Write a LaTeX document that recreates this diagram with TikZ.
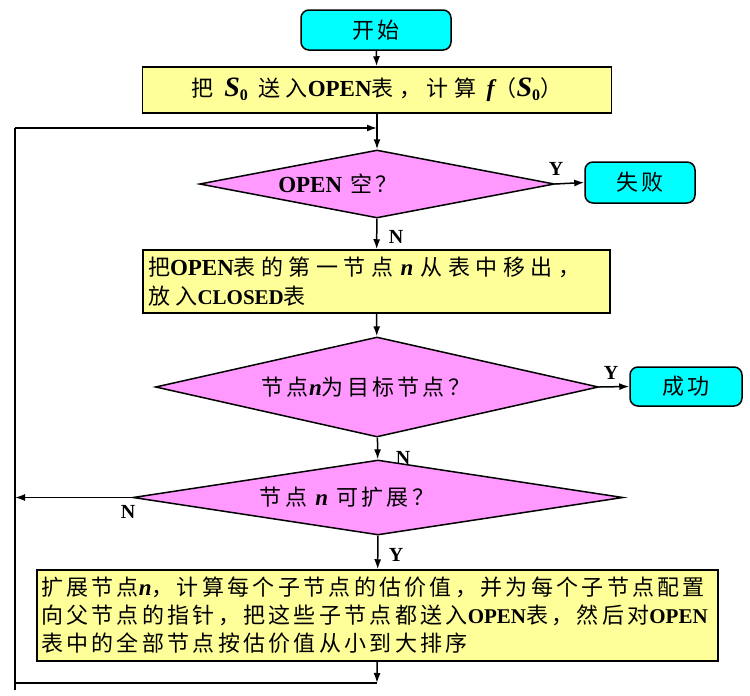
\documentclass[tikz,border=0pt]{standalone}
\usepackage{fontspec}
\setmainfont{Liberation Serif}
\newfontfamily\cjk[LetterSpace=15]{Noto Sans CJK SC}
\newfontfamily\cjkw[LetterSpace=25]{Noto Sans CJK SC}
\newfontfamily\tnr{Liberation Serif}
\usetikzlibrary{shapes.geometric,arrows.meta}
\newcommand\enb[1]{{\tnr\bfseries\fontsize{23}{28}\selectfont #1}}
\newcommand\ens[1]{{\tnr\bfseries\fontsize{21}{28}\selectfont #1}}
\newcommand\nv{{\tnr\bfseries\itshape\fontsize{23}{28}\selectfont n}}
\newcommand\Szero{{\tnr\bfseries\itshape\fontsize{28}{28}\selectfont S}{\tnr\bfseries\fontsize{16}{16}\selectfont\raisebox{-4pt}{0}}}
\definecolor{cyanc}{HTML}{00FFFF}
\definecolor{yelc}{HTML}{FFFF99}
\definecolor{pinkc}{HTML}{FF99FF}
\begin{document}
\begin{tikzpicture}[x=1pt,y=-1pt,
  every node/.style={font=\cjk\fontsize{22}{28}\selectfont},
  term/.style={draw, line width=1.5pt, rounded corners=8pt, fill=cyanc, inner sep=0pt},
  procbox/.style={draw, line width=1.5pt, fill=yelc, inner sep=0pt},
  dec/.style={draw, diamond, line width=1.5pt, fill=pinkc, inner sep=0pt},
  lbl/.style={inner sep=0pt},
  yn/.style={font=\tnr\bfseries\fontsize{20}{20}\selectfont, inner sep=0pt},
  arr/.style={-{Latex[length=10pt,width=7pt]}, line width=1.5pt},
  ln/.style={line width=1.5pt}]
\useasboundingbox (0,0) rectangle (750,696);
% nodes
\node[term, minimum width=150pt, minimum height=40pt] (start) at (376,30) {开始};
\node[procbox, minimum width=469pt, minimum height=46pt, font=\cjkw\fontsize{22}{28}\selectfont] (b1) at (377,90)
  {把 \Szero\ 送入\enb{OPEN}表，计算 {\tnr\bfseries\itshape\fontsize{24}{28}\selectfont f}（\Szero）};
\node[dec, minimum width=355pt, minimum height=68pt] (d1) at (377,184) {};
\node[lbl] (d1t) at (338,184) {\enb{OPEN} 空？};
\node[term, minimum width=110pt, minimum height=41pt] (fail) at (640,182.5) {失败};
\node[procbox, minimum width=467pt, minimum height=63pt, text width=457pt, align=left, inner xsep=5pt, font=\cjkw\fontsize{22}{29}\selectfont] (b2) at (376.5,281.5)
  {把\enb{OPEN}表的第一节点 \nv\ 从表中移出，\\放入\ens{CLOSED}表};
\node[dec, minimum width=443pt, minimum height=100pt] (d2) at (377,387) {};
\node[lbl] (d2t) at (366,387) {节点\nv 为目标节点？};
\node[term, minimum width=112pt, minimum height=39pt] (succ) at (686,386.5) {成功};
\node[dec, minimum width=490pt, minimum height=75pt] (d3) at (378,497.5) {};
\node[lbl] (d3t) at (347,497.5) {节点 \nv\ 可扩展？};
\node[procbox, minimum width=681pt, minimum height=91pt, text width=673pt, align=left, inner xsep=4pt] (b3) at (377.5,615.5)
  {扩展节点\nv，计算每个子节点的估价值，并为每个子节点配置\\向父节点的指针，把这些子节点都送入\ens{OPEN}表，然后对\ens{OPEN}\\表中的全部节点按估价值从小到大排序};
% coordinates
\coordinate (jn) at (377,128);
\coordinate (lt) at (15,128);
\coordinate (lb) at (15,683);
\coordinate (lbb) at (15,690);
\coordinate (bb) at (377,683);
\coordinate (nl) at (15,497.5);
% connectors
\draw[arr] (start) -- (b1);
\draw[arr] (b1) -- (d1);
\draw[arr] (d1.east) -- (fail.west);
\draw[arr] (d1) -- (b2);
\draw[arr] (b2) -- (d2);
\draw[arr] (d2.east) -- (succ.west);
\draw[arr] (d2) -- (d3);
\draw[arr] (d3.west) -- (nl);
\draw[arr] (d3) -- (b3);
\draw[arr] (b3) -- (bb);
\draw[ln] (bb) -- (lb);
\draw[ln] (lbb) -- (lt);
\draw[arr] (lt) -- (jn);
% labels
\node[yn] (y1) at (556,169) {Y};
\node[yn] (n1) at (396,237) {N};
\node[yn] (y2) at (611,373) {Y};
\node[yn] (n2) at (403,458) {N};
\node[yn] (n3) at (128,512) {N};
\node[yn] (y3) at (396,555) {Y};
\end{tikzpicture}
\end{document}
